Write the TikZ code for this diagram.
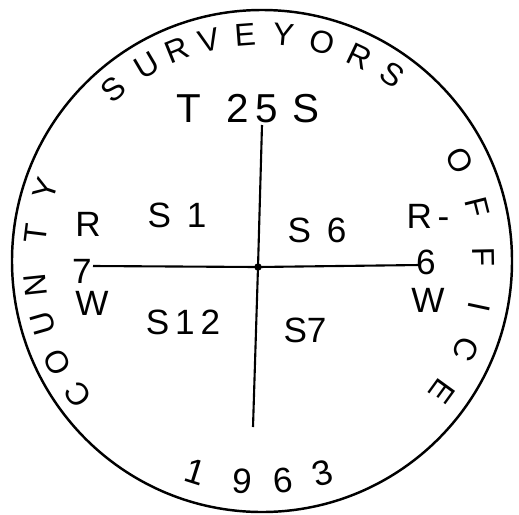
\documentclass[tikz,border=0pt]{standalone}
\usepackage{fontspec}
\setmainfont{Liberation Sans}

\begin{document}
\begin{tikzpicture}[x=0.02cm, y=-0.02cm]
\tikzset{
  hand/.style={font=\fontsize{20}{24}\selectfont, inner sep=0pt},
  rimtext/.style={font=\fontsize{18}{22}\selectfont, inner sep=0pt},
  big/.style={font=\fontsize{23}{26}\selectfont, inner sep=0pt},
  rim/.style={line width=1.4pt},
  cross/.style={line width=1.2pt}
}
\useasboundingbox (0,0) rectangle (519,514);

% Rim of the marker
\coordinate (ctr) at (262,261);
\draw[rim] (ctr) ellipse [x radius=250, y radius=251];

% Lettering round the rim (clockwise, tops outward)
\foreach \ch/\a [count=\i] in {S/131,U/120.5,R/112,V/103.5,E/94.3,Y/84.6,O/74.6,R/64.5,S/55} {
  \node[rimtext, rotate=\a-90] (sv\i) at ({262+227*cos(\a)},{261-227*sin(\a)}) {\ch};
}
\foreach \ch/\a [count=\i] in {O/27,F/14,F/1,I/-12,C/-23.5,E/-36} {
  \node[rimtext, rotate=\a-90] (of\i) at ({262+222*cos(\a)},{261-222*sin(\a)}) {\ch};
}
\foreach \ch/\a [count=\i] in {C/216,O/206.3,U/196,N/186,T/173,Y/161.5} {
  \node[rimtext, rotate=\a-90] (co\i) at ({262+228*cos(\a)},{261-228*sin(\a)}) {\ch};
}

% Year along the bottom (tops inward)
\foreach \ch/\a [count=\i] in {1/-107.5,9/-95,6/-84.6,3/-74} {
  \node[hand, rotate=\a+90] (yr\i) at ({262+221*cos(\a)},{261-221*sin(\a)}) {\ch};
}

% Township
\node[big] (twp) at (248,109) {T\hspace{14pt}2\hspace{4pt}5\hspace{8pt}S};

% Ranges
\node[hand] (rw) at (88,224) {R};
\node[hand] (rwnum) at (82,271) {7};
\node[hand] (rwdir) at (92,303) {W};
\node[hand] (re) at (428,216) {R\,-};
\node[hand] (renum) at (426,262) {6};
\node[hand] (redir) at (428,300) {W};

% Sections
\node[hand] (s1) at (177,215) {S\hspace{9pt}1};
\node[hand] (s6) at (317,230) {S\hspace{9pt}6};
\node[hand] (s12) at (183,322) {S\,1\,2};
\node[hand] (s7) at (305,330) {S7};

% Section lines
\node[circle, fill, inner sep=1.5pt] (mid) at (258,267) {};
\coordinate (nend) at (262,125);
\coordinate (send) at (253,427);
\coordinate (wend) at (93,266);
\coordinate (eend) at (420,265);
\draw[cross] (nend) -- (mid.center) -- (send);
\draw[cross] (wend) -- (mid.center) -- (eend);

\end{tikzpicture}
\end{document}
